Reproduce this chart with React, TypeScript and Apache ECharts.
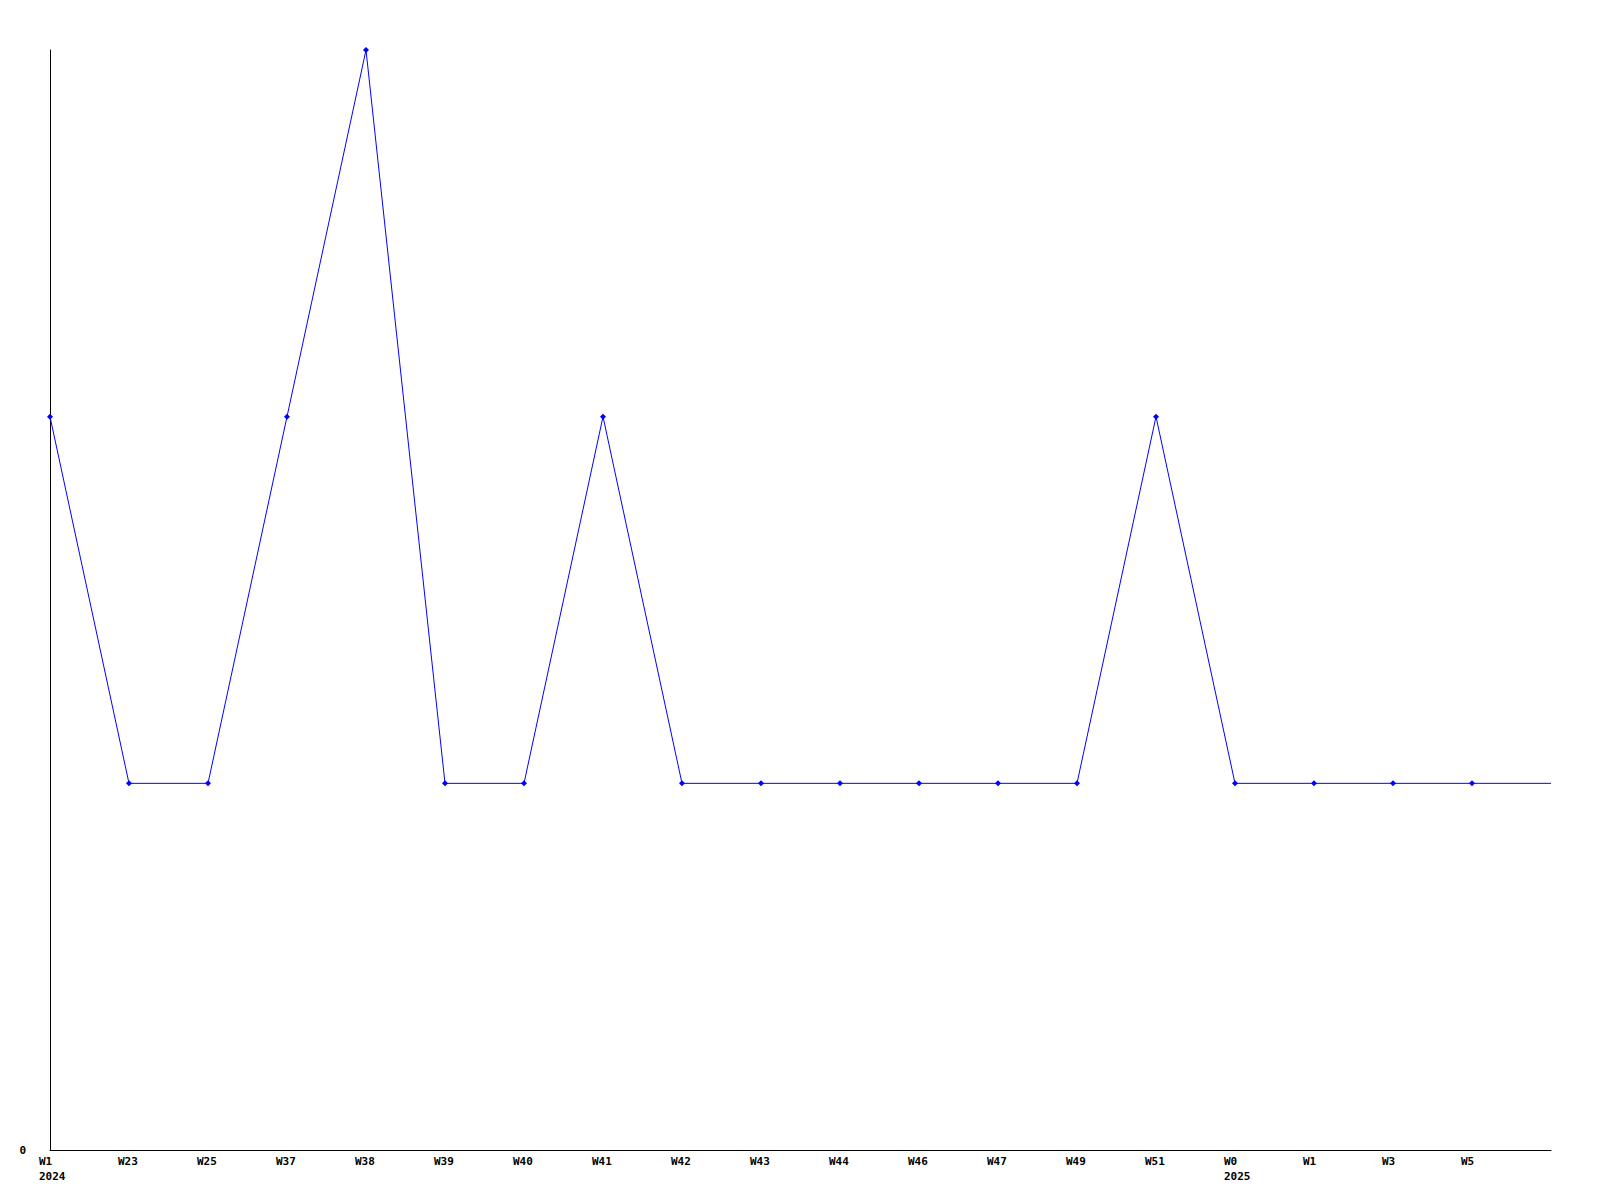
import React, { useEffect, useRef } from "react";
import * as echarts from "echarts";

const weeks = ["W1", "W23", "W25", "W37", "W38", "W39", "W40", "W41", "W42", "W43", "W44", "W46", "W47", "W49", "W51", "W0", "W1", "W3", "W5", ""];
const years = ["2024", "", "", "", "", "", "", "", "", "", "", "", "", "", "", "2025", "", "", "", ""];
const values = [2, 1, 1, 2, 3, 1, 1, 2, 1, 1, 1, 1, 1, 1, 2, 1, 1, 1, 1, 1];

export default function App() {
  const ref = useRef<HTMLDivElement>(null);
  useEffect(() => {
    if (!ref.current) return;
    const chart = echarts.init(ref.current, null, { renderer: "svg" });
    const font = { fontFamily: "DejaVu Sans Mono", fontWeight: "bold" as const, fontSize: 11, color: "#000" };
    const cats = weeks.map((w, i) => (years[i] ? w + "\n" + years[i] : w));
    chart.setOption({
      animation: false,
      backgroundColor: "#fff",
      grid: { left: 50, top: 50, right: 49, bottom: 50 },
      xAxis: {
        type: "category",
        data: cats,
        boundaryGap: false,
        axisLine: { lineStyle: { color: "#000", width: 1 } },
        axisTick: { show: false },
        splitLine: { show: false },
        axisLabel: {
          interval: 0,
          margin: 4,
          lineHeight: 15,
          formatter: (v: string) =>
            v
              .split("\n")
              .map((s) => (s ? `{a|${s}}` : ""))
              .join("\n"),
          rich: { a: { ...font, width: 22, align: "left", lineHeight: 15 } },
          ...font,
        },
      },
      yAxis: {
        type: "value",
        min: 0,
        max: 3,
        interval: 1,
        axisLine: { show: true, lineStyle: { color: "#000", width: 1 } },
        axisTick: { show: false },
        splitLine: { show: false },
        axisLabel: {
          margin: 24,
          formatter: (v: number) => (v === 0 ? "0" : ""),
          ...font,
        },
      },
      series: [
        {
          type: "line",
          data: values.map((v, i) =>
            i === values.length - 1 ? { value: v, symbol: "none" } : v
          ),
          symbol: "diamond",
          symbolSize: 6,
          showSymbol: true,
          lineStyle: { color: "#0000ff", width: 1 },
          itemStyle: { color: "#0000ff" },
        },
      ],
    });
    return () => chart.dispose();
  }, []);
  return (
    <div
      ref={ref}
      style={{ position: "absolute", left: 0, top: 0, width: 1600, height: 1200, background: "#fff" }}
    />
  );
}
